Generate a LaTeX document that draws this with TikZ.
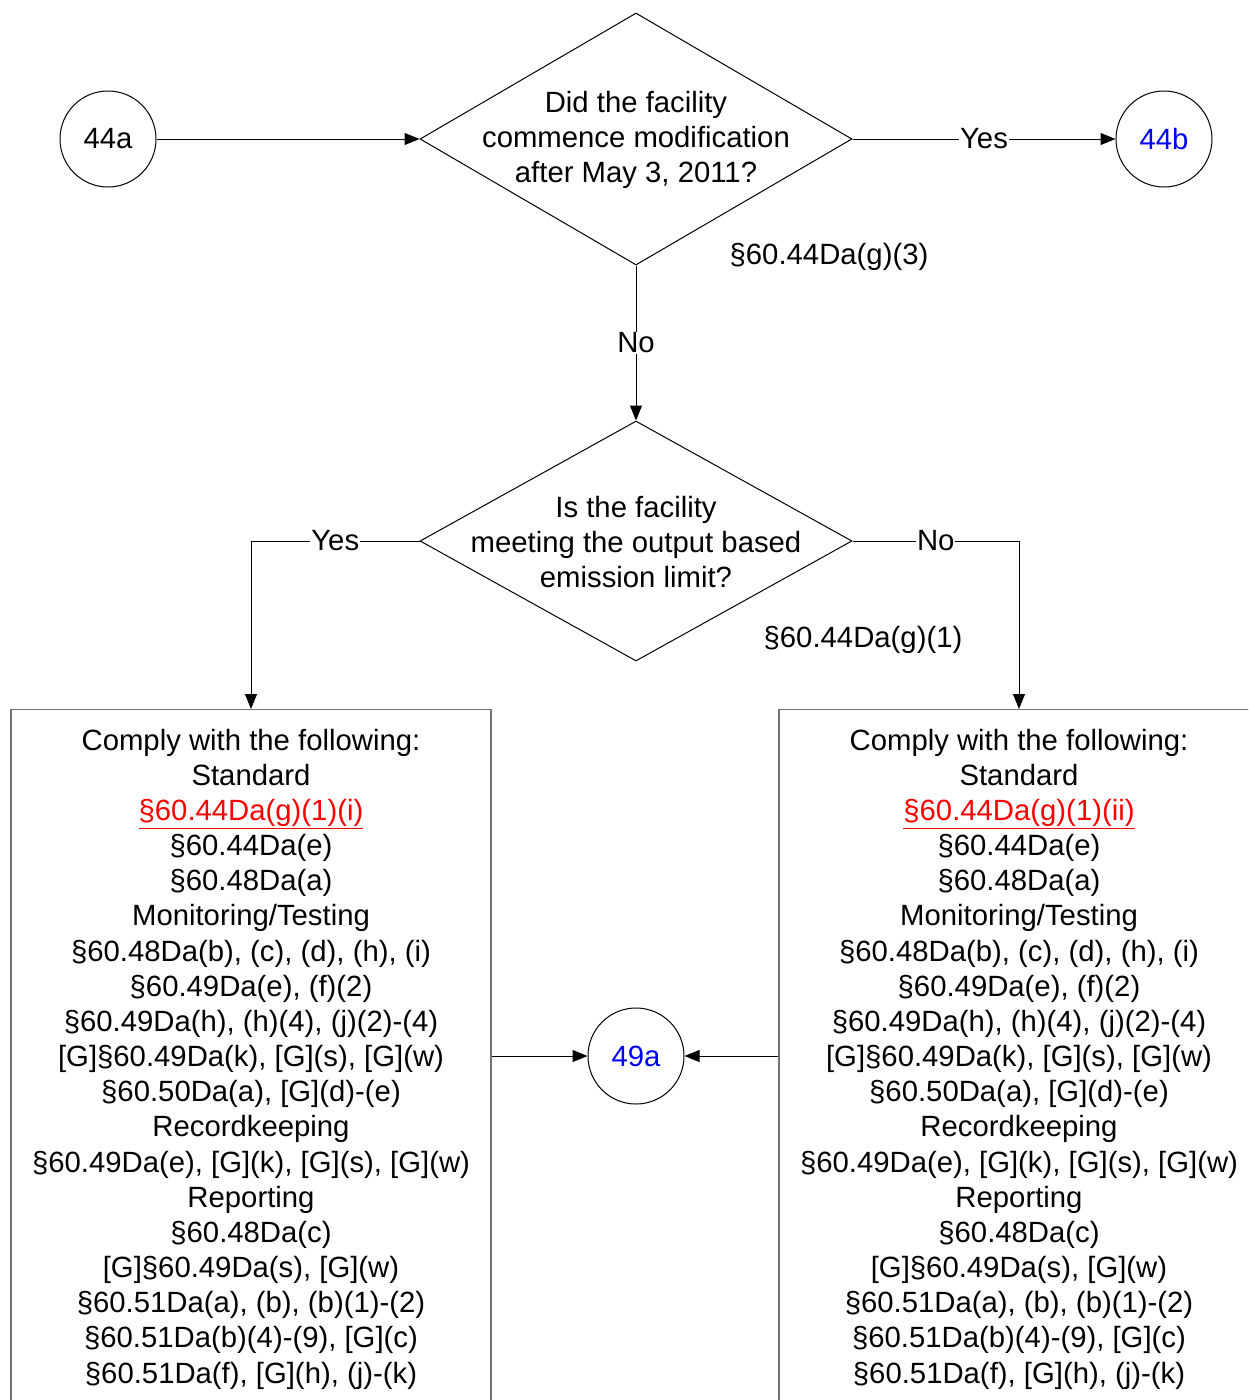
\documentclass[tikz,border=0pt]{standalone}
\usepackage{fontspec}
\setmainfont{Liberation Sans}
\usetikzlibrary{arrows.meta,shapes.geometric}
\begin{document}
\begin{tikzpicture}[x=1pt,y=-1pt,
  every node/.style={font=\fontsize{29.3}{35.17}\selectfont},
  conn/.style={draw=black,line width=1pt},
  arr/.style={conn,-{Triangle[length=15pt,width=12pt]}},
  circ/.style={circle,draw=black,line width=1pt,minimum size=96pt,inner sep=0pt},
  dia/.style={diamond,draw=black,line width=1pt,minimum width=432pt,minimum height=252pt,inner sep=0pt,aspect=1.714},
  diab/.style={diamond,draw=black,line width=1pt,minimum width=432pt,minimum height=240pt,inner sep=0pt,aspect=1.8},
  lbl/.style={fill=white,inner sep=1pt},
  boxed/.style={draw=black!55,line width=1.3pt,rectangle,minimum width=480pt,minimum height=720pt,anchor=north,inner sep=0pt},
  txt/.style={align=center,inner sep=0pt}]
\useasboundingbox (0,0) rectangle (1248,1400);
\clip (0,0) rectangle (1248,1400);
\node[circ] (c44a) at (108,139) {44a};
\node[circ,text=blue] (c44b) at (1164,139) {44b};
\node[dia] (d1) at (636,139) {};
\node[txt] (d1t) at (636,140) {Did the facility\\commence modification\\after May 3, 2011?};
\node[diab] (d2) at (636,541) {};
\node[txt] (d2t) at (636,542) {Is the facility\\meeting the output based\\emission limit?};
\node[txt] (r1) at (829,257) {§60.44Da(g)(3)};
\node[txt] (r2) at (863,640) {§60.44Da(g)(1)};
\node[boxed] (lb) at (251,709) {};
\node[boxed] (rb) at (1019,709) {};
\node[circ,text=blue] (c49a) at (636,1056) {49a};
\node[txt] (lbt) at (251,1059) {Comply with the following:\\Standard\\\textcolor{red}{\underline{§60.44Da(g)(1)(i)}}\\§60.44Da(e)\\§60.48Da(a)\\Monitoring/Testing\\§60.48Da(b), (c), (d), (h), (i)\\§60.49Da(e), (f)(2)\\§60.49Da(h), (h)(4), (j)(2)-(4)\\{[G]}§60.49Da(k), [G](s), [G](w)\\§60.50Da(a), [G](d)-(e)\\Recordkeeping\\§60.49Da(e), [G](k), [G](s), [G](w)\\Reporting\\§60.48Da(c)\\{[G]}§60.49Da(s), [G](w)\\§60.51Da(a), (b), (b)(1)-(2)\\§60.51Da(b)(4)-(9), [G](c)\\§60.51Da(f), [G](h), (j)-(k)};
\node[txt] (rbt) at (1019,1059) {Comply with the following:\\Standard\\\textcolor{red}{\underline{§60.44Da(g)(1)(ii)}}\\§60.44Da(e)\\§60.48Da(a)\\Monitoring/Testing\\§60.48Da(b), (c), (d), (h), (i)\\§60.49Da(e), (f)(2)\\§60.49Da(h), (h)(4), (j)(2)-(4)\\{[G]}§60.49Da(k), [G](s), [G](w)\\§60.50Da(a), [G](d)-(e)\\Recordkeeping\\§60.49Da(e), [G](k), [G](s), [G](w)\\Reporting\\§60.48Da(c)\\{[G]}§60.49Da(s), [G](w)\\§60.51Da(a), (b), (b)(1)-(2)\\§60.51Da(b)(4)-(9), [G](c)\\§60.51Da(f), [G](h), (j)-(k)};
\draw[arr] (c44a) -- (d1.west);
\draw[arr] (d1.east) -- node[lbl] {Yes} (c44b);
\draw[arr] (d1.south) -- node[lbl] {No} (d2.north);
\draw[arr] (d2.west) -- node[lbl] {Yes} (d2.west -| lb.north) -- (lb.north);
\draw[arr] (d2.east) -- node[lbl] {No} (d2.east -| rb.north) -- (rb.north);
\draw[arr] (lb.east |- c49a) -- (c49a);
\draw[arr] (rb.west |- c49a) -- (c49a);
\end{tikzpicture}
\end{document}
